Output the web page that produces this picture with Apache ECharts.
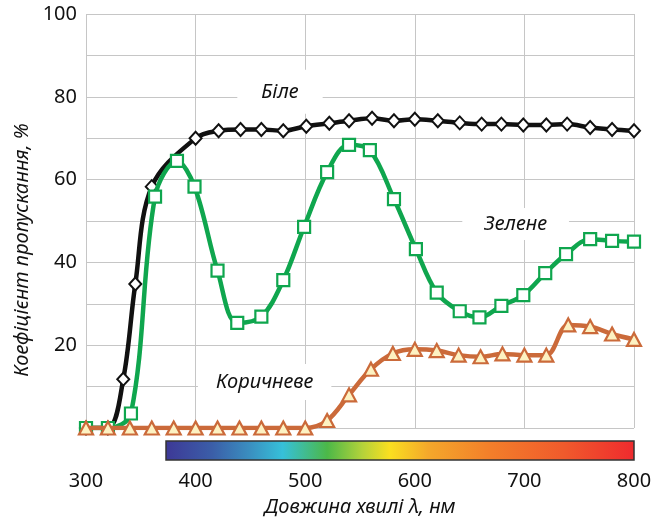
<!DOCTYPE html>
<html>
<head>
<meta charset="utf-8">
<script src="https://cdn.jsdelivr.net/npm/echarts@6/dist/echarts.min.js"></script>
<style>
  html, body { margin: 0; padding: 0; background: #ffffff; }
  #chart { width: 657px; height: 523px; }
</style>
</head>
<body>
<div id="chart"></div>
<script>
// Spectral transmittance of three glass samples (wavelength, nm -> transmittance, %)
const whiteWl = [300, 320, 334, 345, 360, 400, 421, 441, 460, 480, 501, 522, 540, 561, 581, 600, 621, 641, 661, 679, 699, 720, 739, 760, 780, 800];
const whiteT  = [0, 0, 11.8, 34.8, 58.3, 70.0, 71.8, 72.1, 72.1, 71.8, 72.9, 73.6, 74.2, 74.8, 74.2, 74.6, 74.2, 73.7, 73.4, 73.4, 73.2, 73.2, 73.4, 72.6, 72.1, 71.8];

const greenWl = [300, 320, 341, 363, 383, 399, 420, 438, 460, 480, 499, 520, 540, 559, 581, 601, 620, 641, 659, 679, 699, 719, 738, 760, 780, 800];
const greenT  = [0, 0, 3.5, 55.9, 64.5, 58.3, 38.0, 25.4, 26.9, 35.7, 48.6, 61.8, 68.4, 67.1, 55.3, 43.2, 32.7, 28.2, 26.7, 29.5, 32.1, 37.4, 42.0, 45.6, 45.2, 45.0];

const brownWl = [300, 320, 340, 360, 380, 400, 420, 440, 460, 480, 500, 520, 540, 560, 580, 600, 620, 640, 660, 680, 700, 720, 740, 760, 780, 800];
const brownT  = [0, 0, 0, 0, 0, 0, 0, 0, 0, 0, 0, 1.8, 8.0, 14.2, 18.0, 19.0, 18.7, 17.6, 17.2, 17.9, 17.6, 17.6, 24.9, 24.5, 22.7, 21.4];

const seriesNames = ['Біле', 'Зелене', 'Коричневе'];
// where each curve's caption sits, in (nm, %) coordinates
const captionAt = [[477, 81.2], [692, 49.3], [463, 11.1]];

const xTicks = [300, 400, 500, 600, 700, 800];
const yTicks = [20, 40, 60, 80, 100];

// visible spectrum strip under the axis
const spectrumFrom = 373, spectrumTo = 800;
const spectrumStops = [
  [0.00, '#3d3896'], [0.10, '#3b5ea8'], [0.18, '#3a8fc0'], [0.25, '#36c0d9'],
  [0.345, '#4cb848'], [0.42, '#b4d23a'], [0.478, '#fadf20'], [0.56, '#f4a82b'],
  [0.69, '#f37f2a'], [0.85, '#f05a2c'], [1.00, '#ee2a2e']
];

const zip = (a, b) => a.map((v, i) => [v, b[i]]);
const FONT = '"Noto Sans", "Open Sans", sans-serif';
const GRID = '#c6c6c6';

const chart = echarts.init(document.getElementById('chart'), null, { renderer: 'canvas' });

chart.setOption({
  animation: false,
  backgroundColor: '#ffffff',
  grid: { left: 86, right: 23, top: 14, bottom: 95 },
  xAxis: {
    type: 'value',
    min: 300, max: 800, interval: 100,
    axisLine: { show: false },
    axisTick: { show: false },
    splitLine: { show: true, lineStyle: { color: GRID, width: 1 } },
    axisLabel: {
      margin: 43, color: '#111', fontSize: 20, fontFamily: FONT,
      formatter: v => (xTicks.includes(v) ? String(v) : '')
    }
  },
  yAxis: {
    type: 'value',
    min: 0, max: 100, interval: 10,
    axisLine: { show: false },
    axisTick: { show: false },
    splitLine: { show: true, lineStyle: { color: GRID, width: 1 } },
    axisLabel: {
      margin: 9, color: '#111', fontSize: 20, fontFamily: FONT,
      formatter: v => (yTicks.includes(v) ? String(v) : '')
    }
  },
  series: [
    {
      name: seriesNames[0], type: 'line', smooth: 0.35, z: 2,
      data: zip(whiteWl, whiteT),
      lineStyle: { color: '#111111', width: 4.5 },
      symbol: 'diamond', symbolSize: [12, 13],
      itemStyle: { color: '#ffffff', borderColor: '#111111', borderWidth: 2 }
    },
    {
      name: seriesNames[1], type: 'line', smooth: 0.35, z: 3,
      data: zip(greenWl, greenT),
      lineStyle: { color: '#0fa64e', width: 4.5 },
      symbol: 'rect', symbolSize: 12,
      itemStyle: { color: '#ffffff', borderColor: '#0fa64e', borderWidth: 2.2 }
    },
    {
      name: seriesNames[2], type: 'line', smooth: 0.35, z: 4,
      data: zip(brownWl, brownT),
      lineStyle: { color: '#cb6a3a', width: 4.5 },
      symbol: 'triangle', symbolSize: [14, 13],
      itemStyle: { color: '#fdf2c2', borderColor: '#cb6a3a', borderWidth: 2.2 }
    }
  ]
});

function placeDecorations() {
  const p0 = chart.convertToPixel({ gridIndex: 0 }, [spectrumFrom, 0]);
  const p1 = chart.convertToPixel({ gridIndex: 0 }, [spectrumTo, 0]);
  const mid = chart.convertToPixel({ gridIndex: 0 }, [550, 0]);
  const pads = [[12, 24], [6, 22], [8, 18]];
  const captions = seriesNames.map((name, i) => {
    const p = chart.convertToPixel({ gridIndex: 0 }, captionAt[i]);
    return {
      type: 'text', x: p[0], y: p[1], z: 10,
      style: {
        text: name, fill: '#111', align: 'center', verticalAlign: 'middle',
        font: 'italic 20px ' + FONT,
        backgroundColor: '#ffffff', padding: pads[i]
      }
    };
  });
  chart.setOption({
    graphic: [
      {
        type: 'rect', z: 1,
        shape: { x: p0[0], y: p0[1] + 13, width: p1[0] - p0[0], height: 19 },
        style: {
          fill: new echarts.graphic.LinearGradient(0, 0, 1, 0,
            spectrumStops.map(s => ({ offset: s[0], color: s[1] }))),
          stroke: '#333333', lineWidth: 1.5
        }
      },
      {
        type: 'text', x: 22, y: 250, rotation: Math.PI / 2, z: 10,
        style: {
          text: 'Коефіцієнт пропускання, %', fill: '#111',
          align: 'center', verticalAlign: 'middle', font: 'italic 20px ' + FONT
        }
      },
      {
        type: 'text', x: mid[0], y: 507, z: 10,
        style: {
          text: 'Довжина хвилі λ, нм', fill: '#111',
          align: 'center', verticalAlign: 'middle', font: 'italic 20px ' + FONT
        }
      }
    ].concat(captions)
  });
}
placeDecorations();
</script>
</body>
</html>
